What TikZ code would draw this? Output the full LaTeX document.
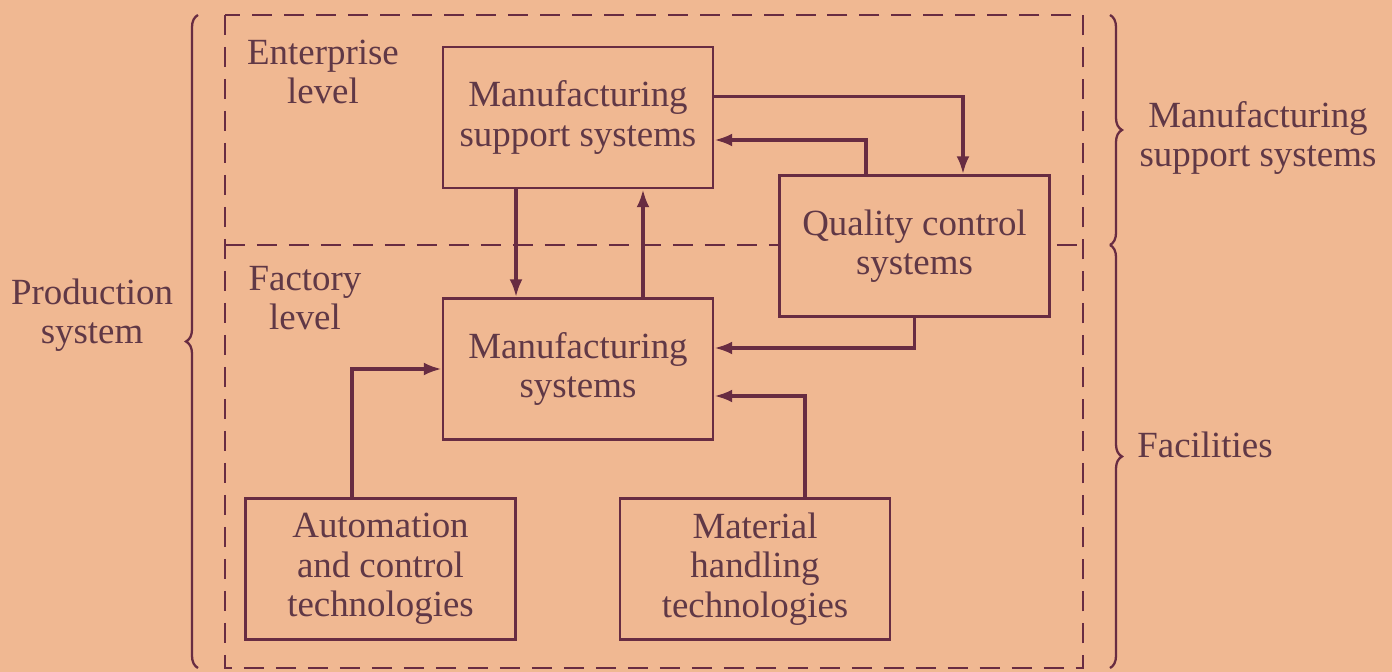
\documentclass[tikz,border=0pt]{standalone}
\usepackage{fontspec}
\setmainfont{Liberation Serif}
\usepackage{tikz}
\usetikzlibrary{calc,arrows.meta,decorations.pathreplacing}
\definecolor{paper}{RGB}{240,184,146}
\definecolor{ink}{RGB}{104,44,66}
\definecolor{print}{RGB}{96,56,70}
\tikzset{
  sysbox/.style={draw=ink, fill=paper, line width=1.4pt, minimum width=5.4cm,
    minimum height=2.82cm, align=center, text=print, inner sep=2pt},
  lbl/.style={align=center, text=print},
  flow/.style={draw=ink, line width=2.2pt, -{Latex[length=0.36cm,width=0.26cm]}},
  level line/.style={draw=ink, line width=1.6pt, dash pattern=on 0.4cm off 0.24cm},
  curly/.style={draw=ink, line width=1.3pt, decorate,
    decoration={brace, amplitude=0.24cm}}
}
\def\boxfont{\fontsize{21}{22.5}\selectfont}

\begin{document}
\begin{tikzpicture}[x=0.02cm, y=-0.02cm, font=\boxfont]
% 背景
\useasboundingbox[fill=paper] (0,0) rectangle (1392,672);
% 座標設定
\coordinate (fNW) at (225,15);
\coordinate (fSE) at (1083,668);
\coordinate (midW) at (225,245);
\coordinate (midE) at (1083,245);
% レベルの枠
\draw[level line] (fNW) rectangle (fSE);
\draw[level line] (midW) -- (midE);
% 波括弧の描画
\draw[curly] (198,668) -- (198,15);
\draw[curly] (1110,15) -- (1110,245);
\draw[curly] (1110,245) -- (1110,668);
% ボックスの描画
\node[sysbox] (mss) at (578,117.5) {Manufacturing\\support systems};
\node[sysbox] (qcs) at (914.5,246) {Quality control\\systems};
\node[sysbox] (ms) at (578,369) {Manufacturing\\systems};
\node[sysbox] (act) at (380.5,569) {Automation\\and control\\technologies};
\node[sysbox] (mht) at (755,569) {Material\\handling\\technologies};
% ラベルの描画
\node[lbl] (enterprise) at (323,72) {Enterprise\\level};
\node[lbl] (factory) at (305,298) {Factory\\level};
\node[lbl] (prodsys) at (92,315) {Production\\system};
\node[lbl] (supportlbl) at (1258,138) {Manufacturing\\support systems};
\node[lbl] (facilities) at (1205,445) {Facilities};
% 矢印の描画
\draw[flow] ([yshift=0.42cm]mss.east) -| ([xshift=0.97cm]qcs.north);
\draw[flow] ([xshift=-0.97cm]qcs.north) |- ([yshift=-0.45cm]mss.east);
\draw[flow] ([xshift=-1.24cm]mss.south) -- ([xshift=-1.24cm]ms.north);
\draw[flow] ([xshift=1.3cm]ms.north) -- ([xshift=1.3cm]mss.south);
\draw[flow] (qcs.south) |- ([yshift=0.42cm]ms.east);
\draw[flow] ([xshift=1cm]mht.north) |- ([yshift=-0.54cm]ms.east);
\draw[flow] ([xshift=-0.57cm]act.north) |- (ms.west);
\end{tikzpicture}
\end{document}
